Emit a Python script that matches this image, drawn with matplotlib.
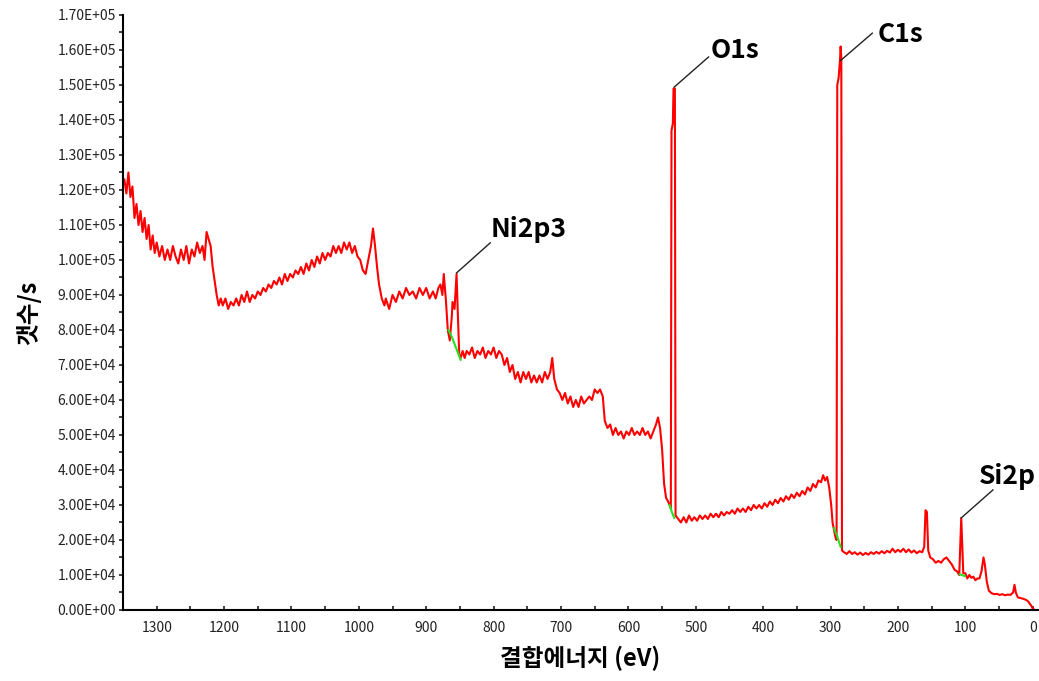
import numpy as np
import matplotlib.pyplot as plt
from matplotlib.ticker import MultipleLocator, FuncFormatter

plt.rcParams['font.family'] = ['Noto Sans CJK KR', 'DejaVu Sans']

# XPS survey spectrum (binding energy in eV, counts in thousands)
energy = [
    1348, 1345, 1342, 1339, 1336, 1333, 1330, 1327, 1324, 1321, 1318, 1315, 1312, 1309, 1306,
    1303, 1300, 1296, 1292, 1288, 1284, 1280, 1276, 1272, 1268, 1264, 1260, 1256, 1252, 1248,
    1244, 1240, 1236, 1232, 1229, 1226, 1223, 1220, 1217, 1214, 1211, 1208, 1205,
    1202, 1198, 1194, 1190, 1186, 1182, 1178, 1174, 1170, 1166, 1162, 1158, 1154, 1150, 1146,
    1142, 1138, 1134, 1130, 1126, 1122, 1118, 1114, 1110, 1106, 1102, 1098, 1094, 1090, 1086,
    1082, 1078, 1074, 1070, 1066, 1062, 1058, 1054, 1050, 1046, 1042, 1038, 1034, 1030, 1026,
    1022, 1018, 1014, 1010, 1006, 1002, 998, 994, 990, 986, 982, 979, 976, 973, 970, 966, 962,
    960, 955, 950, 945, 940, 935, 930, 925, 920, 915, 910, 905, 900, 895, 890, 886, 882, 879,
    876, 874, 871, 868, 865, 862, 861, 858, 855, 853, 851,
    849, 846, 843, 840, 836, 832, 828, 824, 820, 816, 812, 808, 804, 800, 796, 792, 788, 784,
    780, 776, 772, 768, 764, 760, 756, 752, 748, 744, 740, 736, 732, 728, 724, 720, 716, 713,
    710, 706, 702, 698, 694, 690, 686, 682, 678, 674, 670, 666, 662, 658, 654, 650, 646, 642,
    638, 635, 631, 627, 623, 619, 615, 611, 607, 603, 599, 595, 591, 587, 583, 579, 575, 571,
    567, 563, 559, 556, 553, 550, 547, 544, 541, 539, 537, 536, 534, 533, 531, 530,
    526, 522, 518, 514, 510, 506, 502, 498, 494, 490, 486, 482, 478, 474, 470, 466, 462, 458,
    454, 450, 446, 442, 438, 434, 430, 426, 422, 418, 414, 410, 406, 402, 398, 394, 390, 386,
    382, 378, 374, 370, 366, 362, 358, 354, 350, 346, 342, 338, 334, 330, 326, 322, 318, 314,
    311, 308, 305, 302, 299, 297, 295, 293, 291, 290, 288, 286, 285, 284, 283,
    280, 276, 272, 268, 264, 260, 256, 252, 248, 244, 240, 236, 232, 228, 224, 220, 216, 212,
    208, 204, 200, 196, 192, 188, 184, 180, 176, 172, 168, 164, 161, 159, 157, 155, 152, 148,
    144, 140, 136, 132, 128, 124, 120, 116, 112, 109, 107, 106, 105, 103, 100, 97, 94, 91, 88,
    85, 82, 79, 76, 73, 71, 68, 65, 61, 57, 53, 49, 45, 41, 37, 33, 29, 27, 25, 22, 18, 14, 10,
    7, 5, 2, 0, -3,
]
counts_k = [
    123, 119, 125, 118, 121, 112, 116, 110, 114, 108, 112, 106, 110, 103, 107,
    102, 105, 101, 104, 100, 103, 100, 104, 101, 99, 103, 100, 104, 99, 103,
    101, 105, 102, 104, 100, 108, 106, 104, 98, 94, 90, 87, 89,
    87, 89, 86, 88, 87, 89, 87, 90, 88, 91, 88, 90, 89, 91, 90,
    92, 91, 93, 92, 94, 93, 95, 93, 96, 94, 96, 95, 97, 96, 98,
    96, 99, 97, 100, 98, 101, 99, 102, 100, 102, 101, 104, 102, 104, 102,
    105, 103, 105, 102, 104, 101, 100, 97, 96, 100, 104, 109, 104, 98, 93, 89, 87,
    89, 86, 90, 88, 91, 89, 92, 90, 91, 89, 92, 90, 92, 89, 91, 89, 92, 93,
    90, 96, 89, 80, 77, 84, 88, 86, 96, 84, 73,
    72, 74, 72, 74, 73, 75, 72, 74, 73, 75, 72, 74, 73, 75, 72, 74, 73, 70,
    72, 68, 70, 66, 68, 65, 68, 66, 68, 65, 67, 65, 67, 65, 68, 66, 68, 72,
    66, 63, 62, 60, 62, 59, 61, 58, 60, 58, 61, 59, 60, 61, 60, 63, 62, 63,
    61, 54, 52, 53, 50, 52, 50, 51, 49, 51, 50, 52, 50, 51, 50, 52, 50, 51,
    49, 51, 53, 55, 52, 46, 36, 32, 31, 30, 29, 137, 139, 149, 149, 27,
    26, 25, 26.5, 25, 27, 25.5, 26.5, 25.5, 27, 26, 27, 26, 27.5, 26.5, 27.5, 26.5, 28, 27,
    28, 27.5, 28.5, 27.5, 29, 28, 29, 28, 29.5, 28.5, 30, 29, 30, 29, 30.5, 29.5, 31, 30,
    31.5, 30.5, 32, 31, 32.5, 31.5, 33, 32, 33.5, 32.5, 34, 33, 35, 34, 36, 35, 37, 36.5,
    38.5, 37, 38, 35, 30, 25, 23, 21, 20, 150, 152, 157, 161, 158, 17,
    16.5, 16, 16.8, 16, 16.5, 15.8, 16.4, 15.7, 16.3, 15.8, 16.5, 16, 16.6, 16.1, 16.8, 16.2, 16.9, 16.4,
    17.5, 16.5, 17.2, 16.6, 17.5, 16.5, 17.3, 16.4, 17, 16.2, 16.8, 16.5, 18, 28.5, 28, 17, 15, 14.5,
    13.5, 14, 13.5, 14.5, 15, 14, 13, 11.5, 11, 10, 21, 26.3, 21, 10.5, 10.5, 9, 10, 9.2, 9.5,
    8.5, 9, 9, 11, 15, 13, 8, 5.5, 4.8, 4.5, 4.6, 4.3, 4.5, 4.2, 4.4, 4.3, 5, 7.2, 5, 3.6, 3.4, 3.2, 2.9,
    2.5, 2.0, 1.2, 0.4, 0,
]

# background (green) segments under the peaks
bg_segments = [
    ([867, 862, 857, 852, 849], [80, 78, 75.5, 73, 71.5]),
    ([539, 535.5, 532], [30, 28, 26.3]),
    ([295, 290, 285], [23.4, 21, 18]),
    ([108, 104, 101], [10.2, 9.9, 9.7]),
]

# peak labels: name, peak (eV, k), leader end (eV, k), text baseline start (eV, k)
peak_labels = ["Ni2p3", "O1s", "C1s", "Si2p"]
peak_pos = [(855, 96.3), (532, 149.4), (285, 157), (106, 26.3)]
leader_end = [(805, 104.9), (481, 158), (238, 164.8), (59, 34.3)]
text_pos = [(805, 106.6), (478, 157.7), (230, 162.3), (80, 36)]

fig = plt.figure(figsize=(10.39, 6.81), dpi=100)
ax = fig.add_axes([0.1184, 0.1043, 0.8807, 0.8737])

ax.plot(energy, np.array(counts_k) * 1000, color='#ff0000', lw=1.5)
for e, c in bg_segments:
    ax.plot(e, np.array(c) * 1000, color='#22e022', lw=1.5)

for name, (pe, pc), (le, lc), (te, tc) in zip(peak_labels, peak_pos, leader_end, text_pos):
    ax.plot([pe, le], [pc * 1000, lc * 1000], color='#222222', lw=1.0)
    ax.text(te, tc * 1000, name, fontsize=19, fontweight='bold',
            va='baseline', ha='left', color='black')

ax.set_xlim(1350, -8)
ax.set_ylim(0, 170000)
ax.xaxis.set_major_locator(MultipleLocator(100))
ax.xaxis.set_minor_locator(MultipleLocator(50))
ax.yaxis.set_major_locator(MultipleLocator(10000))
ax.yaxis.set_minor_locator(MultipleLocator(5000))
ax.yaxis.set_major_formatter(FuncFormatter(lambda v, p: f"{v:.2E}"))

for side in ['top', 'right']:
    ax.spines[side].set_visible(False)
for side in ['left', 'bottom']:
    ax.spines[side].set_linewidth(1.5)

ax.tick_params(axis='x', which='both', direction='in', length=3, width=1.2,
               labelsize=10, pad=8, colors='#222222')
ax.tick_params(axis='y', which='both', direction='out', length=3, width=1.2,
               labelsize=10, pad=2, colors='#222222')

ax.set_xlabel("결합에너지 (eV)", fontsize=17, fontweight='bold', labelpad=8)
ax.set_ylabel("갯수/s", fontsize=17, fontweight='bold', labelpad=12)

fig.savefig("out.png", dpi=100)
